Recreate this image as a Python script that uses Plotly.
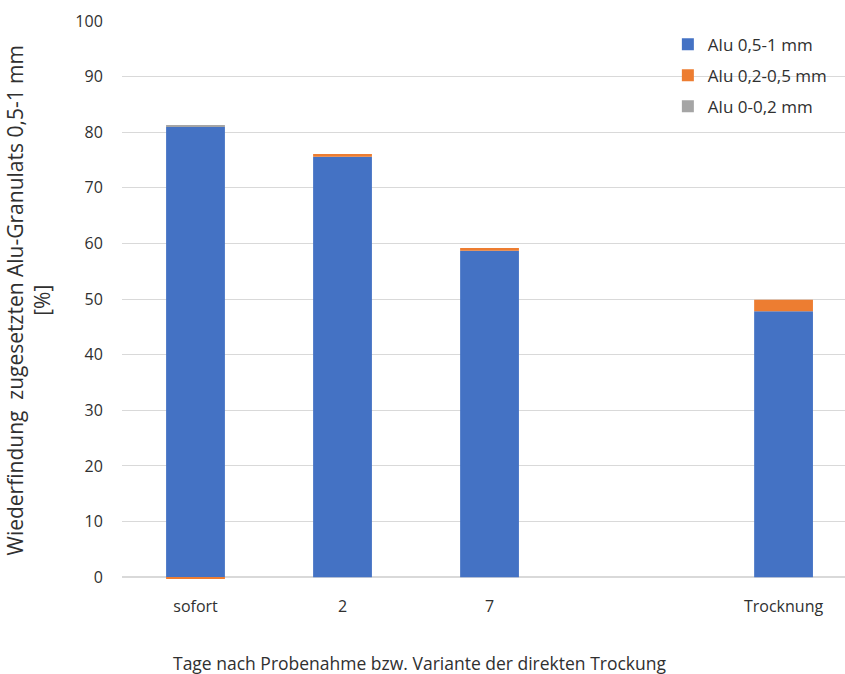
import plotly.graph_objects as go

# Categories (the blank slot separates the storage days from the drying variant)
categories = ["sofort", "2", "7", " ", "Trocknung"]

# Recovery of the added aluminium granulate, per size fraction [%]
alu_05_1 = [81.0, 75.6, 58.7, None, 47.8]
alu_02_05 = [-0.3, 0.5, 0.5, None, 2.1]
alu_0_02 = [0.2, 0.0, 0.0, None, 0.0]

series = [
    ("Alu 0,5-1 mm", alu_05_1, "#4472C4"),
    ("Alu 0,2-0,5 mm", alu_02_05, "#ED7D31"),
    ("Alu 0-0,2 mm", alu_0_02, "#A5A5A5"),
]

FONT = "Open Sans"
TXT = "#303030"

fig = go.Figure()
for name, vals, color in series:
    fig.add_trace(go.Bar(
        x=categories, y=vals, name=name, legendgroup=name,
        marker=dict(color=color, line=dict(width=0)),
        width=0.4,
    ))

fig.update_layout(
    width=845, height=674,
    barmode="relative",
    plot_bgcolor="white", paper_bgcolor="white",
    margin=dict(l=122, r=0, t=21, b=94),
    font=dict(family=FONT, size=15, color=TXT),
    showlegend=True,
    legend=dict(
        x=0.755, y=0.99, xanchor="left", yanchor="top",
        traceorder="grouped", tracegroupgap=6,
        font=dict(size=17, color=TXT),
        itemwidth=30,
        bgcolor="rgba(0,0,0,0)",
    ),
    xaxis=dict(
        type="category", categoryorder="array", categoryarray=categories,
        range=[-0.5, 4.418],
        showgrid=False, showline=False, zeroline=False,
        ticks="outside", ticklen=12, tickcolor="rgba(0,0,0,0)",
        tickfont=dict(size=16, color=TXT),
    ),
    yaxis=dict(
        range=[-0.5, 100], tickvals=list(range(0, 101, 10)),
        showgrid=True, gridcolor="#D9D9D9", gridwidth=1,
        zeroline=True, zerolinecolor="#D9D9D9", zerolinewidth=1.5,
        showline=False,
        ticks="outside", ticklen=15, tickcolor="rgba(0,0,0,0)",
        tickfont=dict(size=16, color=TXT),
    ),
    annotations=[
        dict(
            text="Wiederfindung  zugesetzten Alu-Granulats 0,5-1 mm<br>[%]",
            xref="paper", yref="paper", x=0, y=0.5,
            xshift=-94, xanchor="center", yanchor="middle",
            textangle=-90, showarrow=False,
            font=dict(size=21, color=TXT),
        ),
        dict(
            text="Tage nach Probenahme bzw. Variante der direkten Trockung",
            xref="paper", yref="paper", x=0.412, y=0,
            yshift=-83, xanchor="center", yanchor="middle",
            showarrow=False,
            font=dict(size=17.5, color=TXT),
        ),
    ],
)

fig.write_html("out.html")
